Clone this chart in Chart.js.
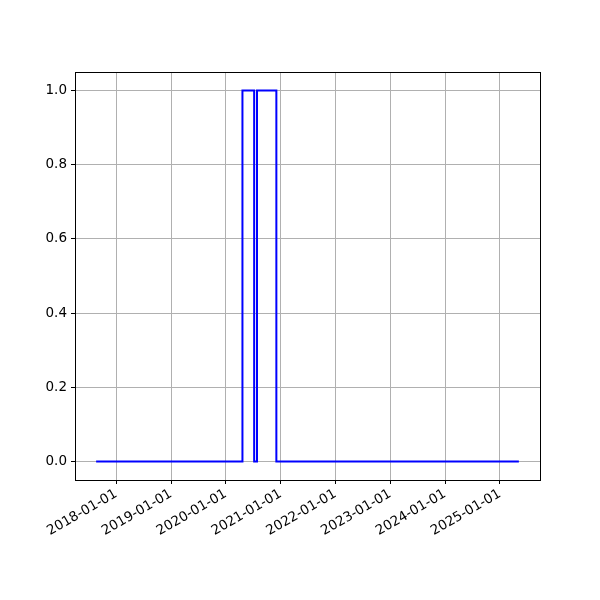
<!DOCTYPE html>
<html>
<head>
<meta charset="utf-8">
<script src="https://cdn.jsdelivr.net/npm/chart.js@4"></script>
<style>
  html, body { margin: 0; padding: 0; background: #fff; }
  #wrap { width: 600px; height: 600px; }
</style>
</head>
<body>
<div id="wrap"><canvas id="chart" width="600" height="600"></canvas></div>
<script>
// change points of the series (value holds until the next date)
const dates = ["2017-08-20", "2020-04-21", "2020-07-08", "2020-07-27", "2020-12-03", "2025-05-07"];
const values = [0, 1, 0, 1, 0, 0];
const xTickDates = ["2018-01-01", "2019-01-01", "2020-01-01", "2021-01-01", "2022-01-01", "2023-01-01", "2024-01-01", "2025-01-01"];
const yTicks = [0, 0.2, 0.4, 0.6, 0.8, 1.0];

const toMs = d => Date.parse(d + "T00:00:00Z");
const points = dates.map((d, i) => ({ x: toMs(d), y: values[i] }));

// matplotlib-style 5% margins
const xFirst = toMs(dates[0]);
const xLast = toMs(dates[dates.length - 1]);
const xPad = (xLast - xFirst) * 0.05;

const font = { family: "DejaVu Sans", size: 13.5 };

const framePlugin = {
  id: "frame",
  afterDraw(chart) {
    const { ctx, chartArea: a } = chart;
    ctx.save();
    ctx.strokeStyle = "#000";
    ctx.lineWidth = 1;
    ctx.strokeRect(Math.round(a.left) + 0.5, Math.round(a.top) + 0.5,
      Math.round(a.right - a.left), Math.round(a.bottom - a.top));
    ctx.restore();
  }
};

new Chart(document.getElementById("chart"), {
  type: "line",
  data: {
    datasets: [{
      data: points,
      borderColor: "#0000ff",
      borderWidth: 2,
      stepped: true,
      pointRadius: 0,
      fill: false
    }]
  },
  options: {
    responsive: false,
    animation: false,
    layout: { padding: { top: 72, right: 60, left: 0, bottom: 0 } },
    plugins: { legend: { display: false }, tooltip: { enabled: false } },
    scales: {
      x: {
        type: "linear",
        min: xFirst - xPad,
        max: xLast + xPad,
        afterBuildTicks: s => { s.ticks = xTickDates.map(d => ({ value: toMs(d) })); },
        afterFit: s => { s.height = 120; },
        ticks: {
          color: "#000",
          font: font,
          minRotation: 30,
          maxRotation: 30,
          padding: 2,
          autoSkip: false,
          callback: v => new Date(v).toISOString().slice(0, 10)
        },
        grid: { color: "#b0b0b0", lineWidth: 1, tickColor: "#000", tickLength: 4 },
        border: { color: "#000", width: 1 }
      },
      y: {
        type: "linear",
        min: -0.05,
        max: 1.05,
        afterBuildTicks: s => { s.ticks = yTicks.map(v => ({ value: v })); },
        afterFit: s => { s.width = 75; },
        ticks: {
          color: "#000",
          font: font,
          padding: 4,
          callback: v => v.toFixed(1)
        },
        grid: { color: "#b0b0b0", lineWidth: 1, tickColor: "#000", tickLength: 4 },
        border: { color: "#000", width: 1 }
      }
    }
  },
  plugins: [framePlugin]
});
</script>
</body>
</html>
